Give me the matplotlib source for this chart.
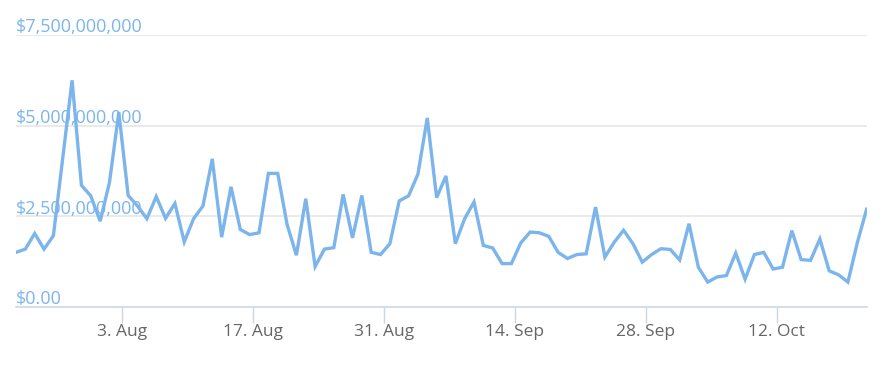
import numpy as np
import pandas as pd
import matplotlib
matplotlib.use("Agg")
import matplotlib.pyplot as plt
import matplotlib.transforms as mtransforms

# daily volume in billions of USD, 92 days starting 22 Jul
volume_bn = [
    1.50, 1.59, 2.02, 1.59, 1.96, 4.10, 6.25, 3.35, 3.06, 2.36,
    3.43, 5.37, 3.07, 2.78, 2.43, 3.04, 2.44, 2.85, 1.79, 2.43,
    2.78, 4.08, 1.92, 3.31, 2.13, 1.99, 2.04, 3.68, 3.68, 2.27,
    1.42, 2.98, 1.11, 1.59, 1.63, 3.10, 1.90, 3.07, 1.50, 1.44,
    1.74, 2.92, 3.06, 3.66, 5.21, 3.01, 3.61, 1.74, 2.43, 2.89,
    1.69, 1.62, 1.19, 1.19, 1.76, 2.06, 2.04, 1.94, 1.50, 1.33,
    1.44, 1.46, 2.75, 1.37, 1.78, 2.11, 1.74, 1.23, 1.44, 1.60,
    1.58, 1.29, 2.29, 1.09, 0.68, 0.82, 0.86, 1.48, 0.76, 1.44,
    1.50, 1.04, 1.09, 2.10, 1.30, 1.28, 1.87, 0.99, 0.88, 0.68,
    1.76, 2.69,
]
dates = pd.date_range("2020-07-22 15:00", periods=len(volume_bn), freq="D")

x_ticks = ["2020-08-03", "2020-08-17", "2020-08-31", "2020-09-14", "2020-09-28", "2020-10-12"]
x_labels = ["3. Aug", "17. Aug", "31. Aug", "14. Sep", "28. Sep", "12. Oct"]
y_ticks = [0, 2.5e9, 5e9, 7.5e9]
y_labels = ["$0.00", "$2,500,000,000", "$5,000,000,000", "$7,500,000,000"]

line_color = "#7cb5ec"
plt.rcParams["font.family"] = ["Open Sans", "DejaVu Sans"]

fig = plt.figure(figsize=(8.81, 3.66), dpi=100)
ax = fig.add_axes([16 / 881, 59.3 / 366, 850.6 / 881, 271.7 / 366])

values = np.array(volume_bn) * 1e9
ax.plot(dates, values, color=line_color, lw=2.4, solid_joinstyle="miter", zorder=3)

ax.set_xlim(dates[0], dates[-1])
ax.set_ylim(0, 7.5e9)

for v in y_ticks[1:]:
    ax.axhline(v, color="#e6e6e6", lw=1.2, zorder=1)

ax.set_yticks([])
trans = mtransforms.offset_copy(ax.get_yaxis_transform(), fig=fig, x=0, y=2.5, units="dots")
for v, lab in zip(y_ticks, y_labels):
    ax.text(0, v, lab, transform=trans, ha="left", va="baseline",
            color=line_color, fontsize=13, zorder=2)

ax.set_xticks(pd.to_datetime(x_ticks))
ax.set_xticklabels(x_labels)
ax.tick_params(axis="x", length=11.5, width=1, color="#ccd6eb",
               labelcolor="#666666", labelsize=12.5, pad=1)

for s in ["left", "right", "top"]:
    ax.spines[s].set_visible(False)
ax.spines["bottom"].set_color("#ccd6eb")
ax.spines["bottom"].set_linewidth(1.2)

fig.savefig("out.png", dpi=100)
